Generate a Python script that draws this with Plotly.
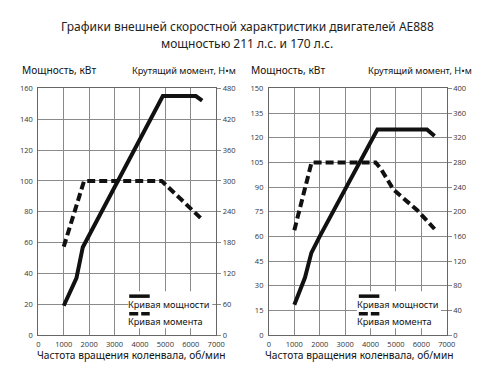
import plotly.graph_objects as go

W, H = 480, 371

# ---- data ----
rpm_ticks = [0, 1000, 2000, 3000, 4000, 5000, 6000, 7000]

# Engine 211 hp (left)
p1_rpm = [1000, 1500, 1750, 4900, 6200, 6450]
p1_kw = [19, 37, 57, 155, 155, 152]
t1_rpm = [1000, 1800, 4850, 6450]
t1_nm = [172, 300, 300, 225]

# Engine 170 hp (right)
p2_rpm = [1000, 1420, 1670, 2000, 4270, 6220, 6520]
p2_kw = [18.5, 35, 50, 60, 125, 125, 121]
t2_rpm = [1000, 1680, 4200, 4400, 4900, 5850, 6520]
t2_nm = [170, 280, 280, 270, 236, 202, 172]

title_lines = ["Графики внешней скоростной характристики двигателей AE888",
               "мощностью 211 л.с. и 170 л.с."]
y_left_title = "Мощность, кВт"
y_right_title = "Крутящий момент, Н•м"
x_title = "Частота вращения коленвала, об/мин"
legend_power = "Кривая мощности"
legend_torque = "Кривая момента"

# ---- geometry helpers ----
def px(x):
    return x / W

def py(y):
    return 1 - y / H

TOP, BOT = 77.5, 331
panels = [
    dict(x0=29, x1=211, ymax=160, ydt=20, y2max=480, y2dt=60, xc=124),
    dict(x0=265, x1=447, ymax=150, ydt=15, y2max=400, y2dt=40, xc=357.5),
]

LINE = "#111111"
GRID = "#8a8a8a"
TICKF = dict(family="Open Sans, DejaVu Sans, sans-serif", size=7.5, color="#333333")
TXTF = "Noto Sans, Open Sans, sans-serif"

fig = go.Figure()

data = [(p1_rpm, p1_kw, t1_rpm, t1_nm), (p2_rpm, p2_kw, t2_rpm, t2_nm)]
layout = {}
for i, (pan, (pr, pk, tr, tn)) in enumerate(zip(panels, data)):
    xa = "x" if i == 0 else "x2"
    ya = "y" if i == 0 else "y3"
    yb = "y2" if i == 0 else "y4"
    fig.add_trace(go.Scatter(x=pr, y=pk, mode="lines", xaxis=xa, yaxis=ya,
                             line=dict(color=LINE, width=4), showlegend=False,
                             name=legend_power))
    fig.add_trace(go.Scatter(x=tr, y=tn, mode="lines", xaxis=xa, yaxis=yb,
                             line=dict(color=LINE, width=4, dash="8px,4px"),
                             showlegend=False, name=legend_torque))
    xname = "xaxis" if i == 0 else "xaxis2"
    yname = "yaxis" if i == 0 else "yaxis3"
    y2name = "yaxis2" if i == 0 else "yaxis4"
    layout[xname] = dict(domain=[px(pan["x0"]), px(pan["x1"])], range=[0, 7000],
                         tickvals=rpm_ticks, showgrid=True, gridcolor=GRID, gridwidth=1,
                         zeroline=False, showline=True, linecolor="#666", mirror=True,
                         ticks="", tickfont=TICKF, anchor=ya, ticklabelstandoff=2)
    layout[yname] = dict(domain=[py(BOT), py(TOP)], range=[0, pan["ymax"]],
                         dtick=pan["ydt"], showgrid=True, gridcolor=GRID, gridwidth=1,
                         zeroline=False, showline=True, linecolor="#666",
                         ticks="", tickfont=TICKF, anchor=xa, ticklabelstandoff=3)
    layout[y2name] = dict(range=[0, pan["y2max"]], dtick=pan["y2dt"], overlaying=ya,
                          side="right", anchor=xa, showgrid=False, zeroline=False,
                          showline=True, linecolor="#666", ticks="outside", ticklen=4,
                          tickcolor=GRID, tickfont=TICKF)

annotations = []
# title
for yy, txt in zip([14, 31], title_lines):
    annotations.append(dict(x=px(243), y=py(yy), text=txt, showarrow=False,
                            xref="paper", yref="paper", xanchor="center", yanchor="middle",
                            font=dict(family=TXTF, size=12, color="#222")))

shapes = []
leg = [dict(l=122, r=143, tx=119, box=(121, 286, 207, 324)),
       dict(l=357, r=378, tx=353, box=(355, 286, 441, 324))]
for i, pan in enumerate(panels):
    lx = 10 if i == 0 else 245
    rx = 233 if i == 0 else 475
    annotations.append(dict(x=px(lx), y=py(59), text=y_left_title, showarrow=False,
                            xref="paper", yref="paper", xanchor="left", yanchor="middle",
                            font=dict(family=TXTF, size=10.2, color="#111")))
    annotations.append(dict(x=px(rx), y=py(59), text=y_right_title, showarrow=False,
                            xref="paper", yref="paper", xanchor="right", yanchor="middle",
                            font=dict(family=TXTF, size=9.2, color="#111")))
    annotations.append(dict(x=px(pan["xc"]), y=py(351), text=x_title,
                            showarrow=False, xref="paper", yref="paper",
                            xanchor="center", yanchor="middle",
                            font=dict(family=TXTF, size=10.2, color="#111")))
    g = leg[i]
    bx0, by0, bx1, by1 = g["box"]
    shapes.append(dict(type="rect", xref="paper", yref="paper", x0=px(bx0), x1=px(bx1),
                       y0=py(by1), y1=py(by0), fillcolor="white", line=dict(width=0),
                       layer="above"))
    shapes.append(dict(type="line", xref="paper", yref="paper", x0=px(g["l"]), x1=px(g["r"]),
                       y0=py(291), y1=py(291), line=dict(color=LINE, width=3.5), layer="above"))
    shapes.append(dict(type="line", xref="paper", yref="paper", x0=px(g["l"]), x1=px(g["r"]),
                       y0=py(309), y1=py(309),
                       line=dict(color=LINE, width=3.5, dash="9px,3px"), layer="above"))
    annotations.append(dict(x=px(g["tx"]), y=py(299.5), text=legend_power, showarrow=False,
                            xref="paper", yref="paper", xanchor="left", yanchor="middle",
                            font=dict(family=TXTF, size=9.2, color="#111")))
    annotations.append(dict(x=px(g["tx"]), y=py(317.5), text=legend_torque, showarrow=False,
                            xref="paper", yref="paper", xanchor="left", yanchor="middle",
                            font=dict(family=TXTF, size=9.2, color="#111")))

fig.update_layout(width=W, height=H, margin=dict(l=0, r=0, t=0, b=0),
                  paper_bgcolor="white", plot_bgcolor="white", showlegend=False,
                  annotations=annotations, shapes=shapes, **layout)

fig.write_html("out.html", config={"displayModeBar": False})
